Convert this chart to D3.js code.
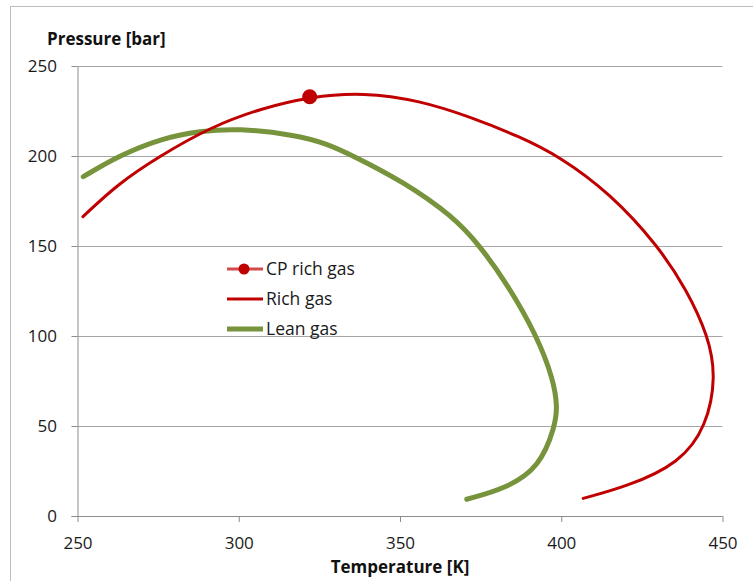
<!DOCTYPE html>
<html>
<head>
<meta charset="utf-8">
<script src="https://cdn.jsdelivr.net/npm/d3@7"></script>
<style>
  html, body { margin: 0; padding: 0; background: #fff; }
  svg { display: block; font-family: "Open Sans", "Noto Sans", sans-serif; }
</style>
</head>
<body>
<svg id="chart" width="753" height="581"></svg>
<script>
// Phase envelopes: temperature [K] vs pressure [bar]
const richT = [251.7, 262.5, 275.5, 291.5, 307.0, 322.0, 338.6, 356.2, 371.7, 387.2, 399.6, 415.1, 430.1, 438.9, 445.6, 448.0, 445.1, 436.8, 420.3, 406.8];
const richP = [166.3, 184.5, 200.0, 216.3, 226.5, 232.9, 235.4, 230.8, 221.8, 210.7, 199.6, 179.3, 150.0, 125.6, 100.0, 77.4, 50.0, 29.3, 16.3, 9.8];

const leanT = [251.8, 262.6, 276.0, 288.0, 299.8, 317.4, 327.2, 335.6, 351.0, 366.6, 374.8, 383.1, 392.5, 397.6, 398.8, 398.1, 393.4, 383.1, 370.7];
const leanP = [188.5, 200.0, 209.8, 213.9, 215.4, 211.7, 207.0, 200.0, 185.8, 166.3, 150.0, 129.3, 100.0, 75.6, 60.7, 50.0, 27.4, 15.4, 9.3];

// Critical point of the rich gas
const cpT = [322.0];
const cpP = [232.9];

const xTicks = [250, 300, 350, 400, 450];
const yTicks = [0, 50, 100, 150, 200, 250];
const legendLabels = ["CP rich gas", "Rich gas", "Lean gas"];

const RED = "#C00000";
const GREEN = "#77933C";
const GRID = "#A6A6A6";
const AXIS = "#8C8C8C";
const TEXT = "#1a1a1a";

const svg = d3.select("#chart");
const plot = { left: 77.5, right: 722.5, top: 66, bottom: 516 };

const x = d3.scaleLinear().domain([250, 450]).range([plot.left, plot.right]);
const y = d3.scaleLinear().domain([0, 250]).range([plot.bottom, plot.top]);

// outer chart frame
svg.append("rect")
  .attr("x", 10.5).attr("y", 6.5)
  .attr("width", 760).attr("height", 600)
  .attr("fill", "none").attr("stroke", "#BDBDBD").attr("stroke-width", 1);

// horizontal gridlines
svg.append("g").selectAll("line")
  .data(yTicks.filter(d => d > 0))
  .join("line")
  .attr("x1", plot.left).attr("x2", plot.right)
  .attr("y1", d => Math.round(y(d)) + 0.5).attr("y2", d => Math.round(y(d)) + 0.5)
  .attr("stroke", GRID).attr("stroke-width", 1);

// y axis
const yAxis = svg.append("g")
  .attr("transform", `translate(${plot.left},0)`)
  .call(d3.axisLeft(y).tickValues(yTicks).tickSize(6).tickPadding(14.5).tickSizeOuter(0));
yAxis.select(".domain").attr("stroke", AXIS);
yAxis.selectAll(".tick line").attr("stroke", AXIS);
yAxis.selectAll(".tick text")
  .attr("font-size", 17).attr("fill", TEXT)
  .attr("font-family", "'Open Sans', sans-serif");

// x axis
const xAxis = svg.append("g")
  .attr("transform", `translate(0,${plot.bottom})`)
  .call(d3.axisBottom(x).tickValues(xTicks).tickSize(6).tickPadding(15).tickSizeOuter(0));
xAxis.select(".domain").attr("stroke", AXIS).attr("d", `M${plot.left - 6},0.5H${plot.right}`);
xAxis.selectAll(".tick line").attr("stroke", AXIS);
xAxis.selectAll(".tick text")
  .attr("font-size", 17).attr("fill", TEXT)
  .attr("font-family", "'Open Sans', sans-serif");

// axis titles
svg.append("text")
  .attr("x", 47).attr("y", 45)
  .attr("font-size", 17).attr("font-weight", "bold").attr("fill", "#111")
  .text("Pressure [bar]");
svg.append("text")
  .attr("x", 400).attr("y", 573)
  .attr("text-anchor", "middle")
  .attr("font-size", 17).attr("font-weight", "bold").attr("fill", "#111")
  .text("Temperature [K]");

const line = d3.line()
  .x(d => x(d[0])).y(d => y(d[1]))
  .curve(d3.curveBasis);

const leanData = leanT.map((t, i) => [t, leanP[i]]);
const richData = richT.map((t, i) => [t, richP[i]]);

svg.append("path")
  .datum(leanData)
  .attr("d", line)
  .attr("fill", "none").attr("stroke", GREEN)
  .attr("stroke-width", 5).attr("stroke-linecap", "round");

svg.append("path")
  .datum(richData)
  .attr("d", line)
  .attr("fill", "none").attr("stroke", RED)
  .attr("stroke-width", 3).attr("stroke-linecap", "round");

svg.append("g").selectAll("circle")
  .data(cpT.map((t, i) => [t, cpP[i]]))
  .join("circle")
  .attr("cx", d => x(d[0])).attr("cy", d => y(d[1]))
  .attr("r", 7.5).attr("fill", RED);

// legend
const legend = svg.append("g").attr("transform", "translate(227,0)");
const rows = [269, 299, 329];
const lg = legend.selectAll("g").data(legendLabels).join("g")
  .attr("transform", (d, i) => `translate(0,${rows[i]})`);
lg.append("line")
  .attr("x1", 0).attr("x2", 36).attr("y1", 0).attr("y2", 0)
  .attr("stroke", (d, i) => i === 2 ? GREEN : RED)
  .attr("stroke-opacity", (d, i) => i === 0 ? 0.7 : 1)
  .attr("stroke-width", (d, i) => i === 2 ? 5 : 3);
lg.filter((d, i) => i === 0).append("circle")
  .attr("cx", 17).attr("cy", 0).attr("r", 5.5).attr("fill", RED);
lg.append("text")
  .attr("x", 39).attr("y", 0).attr("dy", "0.35em")
  .attr("font-size", 17.5).attr("fill", TEXT)
  .text(d => d);
</script>
</body>
</html>
